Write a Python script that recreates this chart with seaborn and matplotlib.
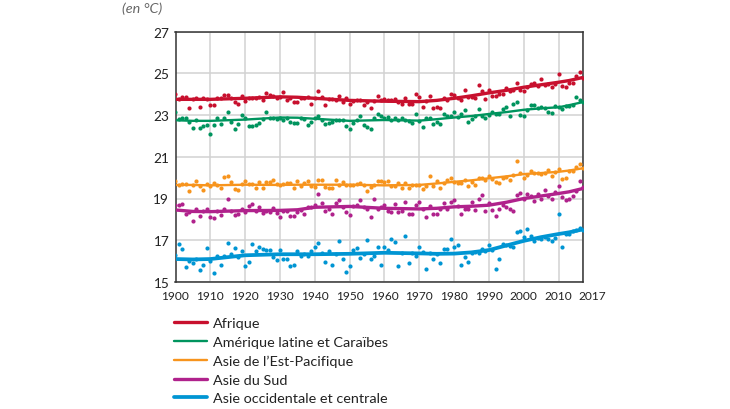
import numpy as np
import pandas as pd
import matplotlib
matplotlib.use("Agg")
import matplotlib.pyplot as plt
from matplotlib.transforms import ScaledTranslation
from matplotlib.lines import Line2D
import seaborn as sns

years = list(range(1900, 2018))
names = ["Afrique", "Amérique latine et Caraïbes", "Asie de l’Est-Pacifique", "Asie du Sud", "Asie occidentale et centrale"]
colors = ["#c8102e", "#00945e", "#f7941d", "#b0228c", "#0095d3"]

afrique = [24.0,23.75,23.85,23.88,23.35,23.75,23.8,23.38,23.8,23.75,
 23.46,23.5,23.8,23.8,23.98,23.96,23.8,23.62,23.55,23.9,
 23.67,23.8,23.8,23.8,23.88,23.72,24.04,23.95,23.9,23.8,
 23.85,24.1,23.7,23.8,23.6,23.6,23.8,23.8,23.85,23.55,
 23.8,24.15,23.88,23.46,23.75,23.75,23.7,23.93,23.6,23.8,
 23.55,23.65,23.7,23.7,23.5,23.6,23.34,23.65,23.93,23.74,
 23.77,23.72,23.72,23.77,23.6,23.53,23.83,23.53,23.53,24.0,
 23.88,23.37,23.65,23.93,23.34,23.4,23.32,23.8,23.72,24.0,
 23.98,23.8,23.72,24.2,23.85,23.85,23.8,24.43,24.14,23.75,
 24.19,23.9,23.93,24.0,24.0,24.28,24.15,24.2,24.55,24.2,
 24.14,24.33,24.47,24.55,24.4,24.71,24.45,24.47,24.36,24.5,
 24.97,24.38,24.35,24.55,24.55,24.86,25.05,24.76]
amerique = [23.16,22.8,22.85,22.85,22.65,22.36,22.75,22.4,22.45,22.5,
 22.07,22.5,22.87,22.55,22.87,23.16,22.66,22.33,22.58,23.0,
 22.84,22.47,22.47,22.5,22.63,22.8,23.13,22.87,22.87,22.82,
 22.85,22.78,22.84,22.68,22.63,22.63,22.87,22.82,22.52,22.68,
 22.87,22.95,22.75,22.55,22.63,22.66,22.75,22.75,22.78,22.47,
 22.33,22.63,22.75,22.97,22.52,22.44,22.33,22.84,23.03,22.94,
 22.87,22.9,22.75,22.87,22.75,22.86,22.78,22.73,22.6,23.05,
 22.7,22.42,22.87,22.87,22.57,22.68,22.58,23.05,22.97,22.94,
 23.13,22.89,23.05,23.22,22.66,22.8,22.94,23.27,22.97,22.86,
 23.02,23.13,23.03,23.05,23.3,23.37,22.94,23.54,23.64,23.02,
 22.97,23.24,23.46,23.5,23.32,23.38,23.32,23.13,23.08,23.42,
 23.37,23.27,23.42,23.43,23.48,23.85,23.7,23.64]
asie_est = [19.85,19.64,19.69,19.7,19.35,19.65,19.85,19.6,19.4,19.69,
 19.58,19.74,19.67,19.48,20.04,20.07,19.8,19.45,19.43,19.69,
 19.85,19.69,19.69,19.5,19.8,19.5,19.77,19.79,19.87,19.69,
 19.67,19.69,19.72,19.72,19.5,19.82,19.6,19.74,19.82,19.6,
 19.56,19.87,19.9,19.53,19.48,19.48,19.9,19.66,19.77,19.64,
 19.64,19.67,19.69,19.74,19.64,19.37,19.56,19.65,19.85,19.83,
 19.77,19.85,19.6,19.58,19.72,19.5,19.72,19.5,19.67,19.64,
 19.67,19.45,19.6,20.1,19.58,19.83,19.5,19.73,19.9,19.97,
 19.77,19.73,19.73,19.9,19.58,19.77,19.65,19.97,20.0,19.9,
 20.1,19.93,19.8,19.72,20.0,20.05,19.9,20.12,20.8,20.2,
 20.0,20.12,20.3,20.2,20.2,20.17,20.2,20.37,20.08,20.25,
 20.4,19.93,20.0,20.3,20.33,20.5,20.65,20.44]
asie_sud = [18.7,18.68,18.73,18.25,18.33,17.93,18.5,18.17,18.4,18.5,
 18.1,18.06,18.4,18.2,18.5,19.0,18.4,18.2,18.28,18.5,
 18.33,18.63,18.75,18.4,18.6,18.3,18.4,18.37,18.55,18.3,
 18.13,18.42,18.42,18.18,18.18,18.33,18.45,18.28,18.57,18.6,
 18.68,19.2,18.8,18.38,18.5,18.25,18.78,18.95,18.57,18.37,
 18.23,18.65,18.7,18.95,18.57,18.5,18.12,18.97,18.5,18.57,
 18.7,18.4,18.37,18.76,18.33,18.4,18.85,18.28,18.28,18.7,
 18.82,18.5,18.12,18.65,18.25,18.25,18.5,18.78,18.5,18.82,
 18.93,18.62,18.28,18.5,18.5,18.82,18.44,18.97,19.16,18.4,
 18.78,18.44,18.17,18.52,18.7,18.57,18.5,18.38,19.18,19.24,
 18.97,19.2,19.1,18.9,19.2,19.0,19.4,19.13,19.0,19.32,
 19.6,19.05,18.93,19.0,19.13,19.37,19.83,19.56]
asie_occ = [16.28,16.84,16.6,15.73,16.0,15.9,16.1,15.57,15.8,16.65,
 16.0,15.43,16.25,15.83,16.25,16.85,16.35,16.62,16.2,16.47,
 15.78,15.95,16.8,16.5,16.7,16.6,16.53,16.55,16.2,16.05,
 16.52,16.12,16.12,15.75,15.8,16.47,16.25,16.36,16.25,16.5,
 16.7,16.87,16.38,15.95,16.47,15.82,16.35,16.97,16.1,15.5,
 15.76,16.55,16.62,16.15,16.35,17.0,16.12,16.25,16.68,15.83,
 16.7,16.52,17.05,16.9,15.78,16.4,17.2,15.93,16.37,16.25,
 16.7,16.42,15.6,16.37,16.12,16.35,15.9,16.6,16.6,17.08,
 16.67,16.75,15.83,16.22,15.98,16.4,16.43,16.4,16.58,16.5,
 16.78,16.55,15.6,16.1,16.8,16.75,16.72,16.68,17.4,17.45,
 17.15,17.53,17.2,16.97,17.13,17.08,17.17,17.05,16.98,17.13,
 18.25,16.7,17.3,17.3,17.45,17.5,17.6,17.5]

trend_years = [1900,1905,1910,1920,1930,1935,1940,1950,1960,1970,1975,1980,1985,1990,1995,2000,2005,2010,2013,2017]
trend_afrique = [23.75,23.75,23.75,23.8,23.87,23.85,23.8,23.7,23.66,23.64,23.7,23.8,23.92,24.06,24.18,24.33,24.45,24.57,24.65,24.8]
trend_amerique = [22.75,22.72,22.72,22.78,22.88,22.87,22.82,22.72,22.76,22.73,22.8,22.88,22.95,23.05,23.14,23.25,23.32,23.37,23.47,23.62]
trend_est = [19.65,19.65,19.63,19.66,19.65,19.66,19.66,19.66,19.63,19.65,19.72,19.8,19.87,19.97,20.06,20.17,20.22,20.28,20.34,20.45]
trend_sud = [18.45,18.38,18.37,18.42,18.43,18.46,18.58,18.62,18.53,18.5,18.53,18.6,18.63,18.68,18.82,19.0,19.12,19.24,19.32,19.48]
trend_occ = [16.1,16.08,16.1,16.28,16.33,16.33,16.33,16.35,16.4,16.37,16.35,16.36,16.42,16.53,16.75,16.97,17.15,17.3,17.38,17.52]

xticks = [1900,1910,1920,1930,1940,1950,1960,1970,1980,1990,2000,2010,2017]
yticks = [15,17,19,21,23,25,27]
widths = [2.4, 1.7, 1.7, 2.4, 2.7]

points = [afrique, amerique, asie_est, asie_sud, asie_occ]
trends = [trend_afrique, trend_amerique, trend_est, trend_sud, trend_occ]

sns.set_theme(style="white")
plt.rcParams['font.family'] = ['Lato', 'DejaVu Sans']
fig = plt.figure(figsize=(7.3, 4.1), dpi=100)
ax = fig.add_axes([175.5/730, 1-283/410, (583-175.5)/730, (283-32.5)/410])

for name, col, pts, trd, lw in zip(names, colors, points, trends, widths):
    dfp = pd.DataFrame({"annee": years, "temp": pts})
    dft = pd.DataFrame({"annee": trend_years, "temp": trd})
    sns.scatterplot(data=dfp, x="annee", y="temp", color=col, s=9, linewidth=0, ax=ax, zorder=3)
    sns.lineplot(data=dft, x="annee", y="temp", color=col, linewidth=lw, ax=ax, zorder=4,
                 solid_capstyle="butt", errorbar=None)

ax.set_xlim(1900, 2017)
ax.set_ylim(15, 27)
ax.set_xticks(xticks)
ax.set_yticks(yticks)
ax.set_xticklabels([str(v) for v in xticks], fontsize=8.6)
ax.set_yticklabels([str(v) for v in yticks], fontsize=9.8)
ax.set_xlabel("")
ax.set_ylabel("")
ax.grid(True, color="#d2d2d2", linewidth=1.1)
ax.set_axisbelow(True)
ax.tick_params(axis="both", length=0, colors="#222222")
ax.tick_params(axis="y", pad=4.5)
ax.tick_params(axis="x", pad=5.5)
for s in ax.spines.values():
    s.set_color("#333333")
    s.set_linewidth(1.1)
lab = ax.get_xticklabels()[-1]
lab.set_transform(lab.get_transform() + ScaledTranslation(9/100, 0, fig.dpi_scale_trans))

fig.text(122/730, 1-9/410, "(en °C)", style="italic", fontsize=10.4, color="#666666", ha="left", va="center")

handles = [Line2D([0], [0], color=c, lw=w) for c, w in zip(colors, widths)]
leg = fig.legend(handles, names, loc="upper left", bbox_to_anchor=(171.5/730, 1-315/410),
                 frameon=False, fontsize=10.4, labelcolor="#222222", handlelength=2.25,
                 handletextpad=0.45, labelspacing=0.46, borderpad=0.2, borderaxespad=0)

fig.savefig("out.png", dpi=100)
